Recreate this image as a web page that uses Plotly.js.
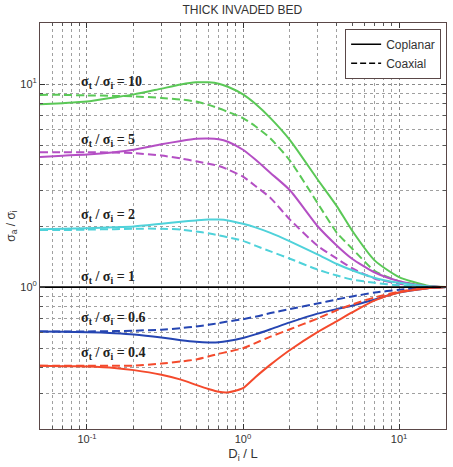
<!DOCTYPE html>
<html>
<head>
<meta charset="utf-8">
<script src="https://cdn.plot.ly/plotly-3.0.1.min.js"></script>
<style>
  html, body { margin: 0; padding: 0; background: #fff; }
  #chart { width: 453px; height: 467px; }
</style>
</head>
<body>
<div id="chart"></div>
<script>
// Normalised invasion depth D_i / L (shared by all curves)
const depth = [0.05, 0.07, 0.1, 0.15, 0.2, 0.3, 0.4, 0.5, 0.6, 0.7, 0.8, 1.0, 1.2, 1.5, 2, 3, 4, 5, 7, 10, 15, 20];

// Apparent conductivity ratio sigma_a / sigma_i, per true/invaded contrast
const r10Coplanar = [7.95, 8.05, 8.2, 8.6, 8.9, 9.5, 9.95, 10.2, 10.2, 10.05, 9.7, 8.9, 8.0, 6.8, 5.3, 3.4, 2.5, 1.9, 1.35, 1.12, 1.02, 1.0];
const r10Coaxial  = [8.85, 8.85, 8.8, 8.75, 8.7, 8.55, 8.4, 8.2, 7.9, 7.6, 7.3, 6.8, 6.2, 5.4, 4.2, 2.6, 1.85, 1.55, 1.2, 1.07, 1.01, 1.0];
const r5Coplanar  = [4.38, 4.44, 4.5, 4.62, 4.75, 5.05, 5.25, 5.38, 5.4, 5.35, 5.2, 4.75, 4.25, 3.65, 3.0, 2.0, 1.6, 1.38, 1.18, 1.07, 1.01, 1.0];
const r5Coaxial   = [4.62, 4.62, 4.62, 4.6, 4.57, 4.45, 4.3, 4.17, 4.05, 3.95, 3.8, 3.5, 3.15, 2.75, 2.15, 1.6, 1.38, 1.24, 1.1, 1.04, 1.01, 1.0];
const r2Coplanar  = [1.93, 1.94, 1.95, 1.97, 1.99, 2.05, 2.1, 2.13, 2.15, 2.15, 2.13, 2.05, 1.97, 1.85, 1.68, 1.45, 1.3, 1.21, 1.11, 1.05, 1.01, 1.0];
const r2Coaxial   = [1.91, 1.91, 1.92, 1.93, 1.94, 1.94, 1.92, 1.88, 1.84, 1.8, 1.76, 1.69, 1.6, 1.5, 1.38, 1.22, 1.14, 1.09, 1.05, 1.02, 1.0, 1.0];
const r1Both      = [1, 1, 1, 1, 1, 1, 1, 1, 1, 1, 1, 1, 1, 1, 1, 1, 1, 1, 1, 1, 1, 1];
const r06Coplanar = [0.605, 0.603, 0.6, 0.593, 0.585, 0.565, 0.548, 0.538, 0.534, 0.535, 0.542, 0.562, 0.585, 0.62, 0.67, 0.74, 0.78, 0.81, 0.87, 0.94, 0.985, 1.0];
const r06Coaxial  = [0.605, 0.605, 0.605, 0.607, 0.61, 0.617, 0.628, 0.64, 0.652, 0.665, 0.677, 0.695, 0.715, 0.745, 0.78, 0.83, 0.87, 0.9, 0.94, 0.97, 0.995, 1.0];
const r04Coplanar = [0.41, 0.408, 0.406, 0.4, 0.39, 0.37, 0.35, 0.33, 0.315, 0.305, 0.303, 0.318, 0.36, 0.415, 0.49, 0.6, 0.68, 0.75, 0.86, 0.94, 0.985, 1.0];
const r04Coaxial  = [0.41, 0.41, 0.41, 0.41, 0.41, 0.42, 0.43, 0.44, 0.455, 0.47, 0.48, 0.5, 0.53, 0.57, 0.62, 0.7, 0.77, 0.82, 0.89, 0.95, 0.99, 1.0];

const contrastLabels = ["10", "5", "2", "1", "0.6", "0.4"];
const labelLevels = [10.15, 5.3, 2.25, 1.12, 0.70, 0.47];
const xTickVals = [0.1, 1, 10];
const xTickText = ["10<sup>-1</sup>", "10<sup>0</sup>", "10<sup>1</sup>"];
const yTickVals = [1, 10];
const yTickText = ["10<sup>0</sup>", "10<sup>1</sup>"];

const groups = [
  { sol: r10Coplanar, dash: r10Coaxial, color: "#5ac856" },
  { sol: r5Coplanar,  dash: r5Coaxial,  color: "#b44fc4" },
  { sol: r2Coplanar,  dash: r2Coaxial,  color: "#4fd2da" },
  { sol: r06Coplanar, dash: r06Coaxial, color: "#2545b2" },
  { sol: r04Coplanar, dash: r04Coaxial, color: "#f44a2c" }
];

const traces = [];
groups.forEach(g => {
  traces.push({ x: depth, y: g.dash, mode: "lines", line: { color: g.color, width: 2, dash: "8px,4px", shape: "spline", smoothing: 0.6 }, showlegend: false, hoverinfo: "skip" });
  traces.push({ x: depth, y: g.sol, mode: "lines", line: { color: g.color, width: 2, shape: "spline", smoothing: 0.6 }, showlegend: false, hoverinfo: "skip" });
});
traces.push({ x: depth, y: r1Both, mode: "lines", line: { color: "#000", width: 1.6 }, showlegend: false, hoverinfo: "skip" });
// legend keys
traces.push({ x: [null], y: [null], mode: "lines", name: "Coplanar", line: { color: "#000", width: 1.6 } });
traces.push({ x: [null], y: [null], mode: "lines", name: "Coaxial", line: { color: "#000", width: 1.6, dash: "6px,3px" } });

const annotations = contrastLabels.map((c, i) => ({
  xref: "x", yref: "y",
  x: Math.log10(0.0885), y: Math.log10(labelLevels[i]),
  xanchor: "left", yanchor: "middle",
  text: "<b>σ<sub>t</sub> / σ<sub>i</sub> = " + c + "</b>",
  showarrow: false,
  font: { family: "Liberation Serif, serif", size: 14, color: "#222" }
}));

const gridCol = "#8a8a8a";
const axisCommon = {
  type: "log",
  showline: true, mirror: "ticks", linecolor: "#5a4848", linewidth: 1,
  ticks: "inside", ticklen: 5, tickcolor: "#333",
  showgrid: true, gridcolor: gridCol, griddash: "dot", gridwidth: 1,
  zeroline: false,
  tickfont: { family: "Liberation Sans, Arial, sans-serif", size: 11, color: "#333" },
  minor: { dtick: "D1", showgrid: true, gridcolor: "#a0a0a0", griddash: "dot", gridwidth: 1, ticks: "inside", ticklen: 3, tickcolor: "#555" }
};

const layout = {
  width: 453, height: 467,
  margin: { l: 40, r: 7, t: 23, b: 38 },
  paper_bgcolor: "#fff", plot_bgcolor: "#fff",
  title: { text: "THICK INVADED BED", x: 0.535, xanchor: "center", y: 0.988, yanchor: "top",
           font: { family: "Liberation Sans, Arial, sans-serif", size: 12, color: "#333" } },
  xaxis: Object.assign({}, axisCommon, {
    range: [Math.log10(0.05), Math.log10(20)],
    tickvals: xTickVals, ticktext: xTickText,
    title: { text: "D<sub>i</sub> / L", standoff: 4, font: { family: "Liberation Sans, Arial, sans-serif", size: 13, color: "#333" } }
  }),
  yaxis: Object.assign({}, axisCommon, {
    range: [Math.log10(0.2), Math.log10(20)],
    tickvals: yTickVals, ticktext: yTickText,
    title: { text: "σ<sub>a</sub> / σ<sub>i</sub>", standoff: 2, font: { family: "Liberation Sans, Arial, sans-serif", size: 12, color: "#333" } }
  }),
  legend: {
    x: 0.988, xanchor: "right", y: 0.986, yanchor: "top",
    bgcolor: "#fff", bordercolor: "#5a4848", borderwidth: 1,
    font: { family: "Liberation Sans, Arial, sans-serif", size: 12, color: "#333" },
    tracegroupgap: 0, itemwidth: 30
  },
  annotations: annotations,
  showlegend: true
};

Plotly.newPlot("chart", traces, layout, { staticPlot: true, displayModeBar: false });
</script>
</body>
</html>
